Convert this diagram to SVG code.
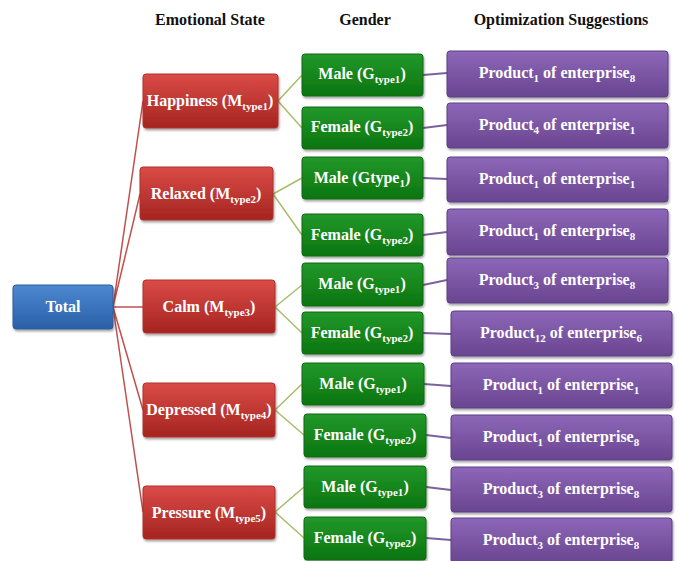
<svg xmlns="http://www.w3.org/2000/svg" width="679" height="561" viewBox="0 0 679 561">
<defs>
<linearGradient id="gRed" x1="0" y1="0" x2="0" y2="1"><stop offset="0" stop-color="#DA4B47"/><stop offset="1" stop-color="#A52420"/></linearGradient>
<linearGradient id="gGreen" x1="0" y1="0" x2="0" y2="1"><stop offset="0" stop-color="#22982A"/><stop offset="1" stop-color="#0B750F"/></linearGradient>
<linearGradient id="gBlue" x1="0" y1="0" x2="0" y2="1"><stop offset="0" stop-color="#4C88D0"/><stop offset="1" stop-color="#2A60A8"/></linearGradient>
<linearGradient id="gPurple" x1="0" y1="0" x2="0" y2="1"><stop offset="0" stop-color="#8D67B8"/><stop offset="1" stop-color="#694590"/></linearGradient>
<filter id="sh" x="-10%" y="-10%" width="120%" height="130%"><feDropShadow dx="1" dy="2" stdDeviation="1.2" flood-color="#000" flood-opacity="0.35"/></filter>
</defs>
<style>
.hd{font-family:"Liberation Serif","Times New Roman",serif;font-weight:bold;font-size:16px;fill:#111;text-anchor:middle}
.t{font-family:"Liberation Serif","Times New Roman",serif;font-weight:bold;font-size:16px;fill:#fff;text-anchor:middle}
.s{font-size:11px}
.red rect{fill:url(#gRed);stroke:#B0302C;stroke-width:1}
.green rect{fill:url(#gGreen);stroke:#0F6A14;stroke-width:1}
.blue rect{fill:url(#gBlue);stroke:#2C5F9E;stroke-width:1}
.purple rect{fill:url(#gPurple);stroke:#5E3F85;stroke-width:1}
rect{filter:url(#sh)}
.lr{stroke:#C0504D;stroke-width:1.5;fill:none}
.lg{stroke:#A6BE6A;stroke-width:1.5;fill:none}
.lp{stroke:#7A62A0;stroke-width:2;fill:none}
</style>
<rect width="679" height="561" fill="#fff" style="filter:none"/>
<g id="headers">
<text class="hd" x="210" y="25">Emotional State</text>
<text class="hd" x="365" y="25">Gender</text>
<text class="hd" x="561" y="25">Optimization Suggestions</text>
</g>
<g id="connectors">
<path class="lr" d="M113,307 L143,101 M113,307 L140,194 M113,307 L143,307 M113,307 L143,410 M113,307 L143,512"/>
<path class="lg" d="M278,101 L302,75 M278,101 L302,128 M273,194 L302,178 M273,194 L302,235 M275,307 L302,285 M275,307 L302,333 M275,410 L302,384 M275,410 L304,435 M275,512 L304,487 M275,512 L304,538"/>
<path class="lp" d="M423,75 L447,73 M423,128 L447,125 M423,178 L447,179 M423,235 L447,232 M423,285 L447,280 M423,333 L451,334 M424,384 L451,386 M426,435 L451,438 M426,487 L451,490 M426,538 L451,540"/>
</g>
<g id="total" class="blue"><rect x="13" y="285" width="100" height="44" rx="3"/><text class="t" x="63" y="312">Total</text></g>
<g id="happiness" class="red"><rect x="143" y="74" width="135" height="54" rx="3"/><text class="t" x="210" y="106">Happiness (M<tspan class="s" dy="4">type1</tspan><tspan dy="-4">)</tspan></text></g>
<g id="relaxed" class="red"><rect x="140" y="167" width="133" height="53" rx="3"/><text class="t" x="206" y="199">Relaxed (M<tspan class="s" dy="4">type2</tspan><tspan dy="-4">)</tspan></text></g>
<g id="calm" class="red"><rect x="143" y="280" width="132" height="53" rx="3"/><text class="t" x="209" y="312">Calm (M<tspan class="s" dy="4">type3</tspan><tspan dy="-4">)</tspan></text></g>
<g id="depressed" class="red"><rect x="143" y="383" width="132" height="54" rx="3"/><text class="t" x="209" y="415">Depressed (M<tspan class="s" dy="4">type4</tspan><tspan dy="-4">)</tspan></text></g>
<g id="pressure" class="red"><rect x="143" y="486" width="132" height="53" rx="3"/><text class="t" x="209" y="518">Pressure (M<tspan class="s" dy="4">type5</tspan><tspan dy="-4">)</tspan></text></g>
<g id="g1" class="green"><rect x="302" y="54" width="121" height="42" rx="3"/><text class="t" x="362" y="79">Male (G<tspan class="s" dy="4">type1</tspan><tspan dy="-4">)</tspan></text></g>
<g id="g2" class="green"><rect x="302" y="107" width="121" height="42" rx="3"/><text class="t" x="362" y="132">Female (G<tspan class="s" dy="4">type2</tspan><tspan dy="-4">)</tspan></text></g>
<g id="g3" class="green"><rect x="302" y="157" width="121" height="42" rx="3"/><text class="t" x="362" y="183">Male (Gtype<tspan class="s" dy="4">1</tspan><tspan dy="-4">)</tspan></text></g>
<g id="g4" class="green"><rect x="302" y="214" width="121" height="42" rx="3"/><text class="t" x="362" y="240">Female (G<tspan class="s" dy="4">type2</tspan><tspan dy="-4">)</tspan></text></g>
<g id="g5" class="green"><rect x="302" y="263" width="121" height="43" rx="3"/><text class="t" x="362" y="289">Male (G<tspan class="s" dy="4">type1</tspan><tspan dy="-4">)</tspan></text></g>
<g id="g6" class="green"><rect x="302" y="312" width="121" height="42" rx="3"/><text class="t" x="362" y="338">Female (G<tspan class="s" dy="4">type2</tspan><tspan dy="-4">)</tspan></text></g>
<g id="g7" class="green"><rect x="302" y="363" width="122" height="42" rx="3"/><text class="t" x="363" y="389">Male (G<tspan class="s" dy="4">type1</tspan><tspan dy="-4">)</tspan></text></g>
<g id="g8" class="green"><rect x="304" y="414" width="122" height="43" rx="3"/><text class="t" x="365" y="440">Female (G<tspan class="s" dy="4">type2</tspan><tspan dy="-4">)</tspan></text></g>
<g id="g9" class="green"><rect x="304" y="466" width="122" height="42" rx="3"/><text class="t" x="365" y="492">Male (G<tspan class="s" dy="4">type1</tspan><tspan dy="-4">)</tspan></text></g>
<g id="g10" class="green"><rect x="304" y="517" width="122" height="43" rx="3"/><text class="t" x="365" y="543">Female (G<tspan class="s" dy="4">type2</tspan><tspan dy="-4">)</tspan></text></g>
<g id="p1" class="purple"><rect x="447" y="51" width="221" height="46" rx="3"/><text class="t" x="557" y="78">Product<tspan class="s" dy="4">1</tspan><tspan dy="-4"> of enterprise</tspan><tspan class="s" dy="4">8</tspan></text></g>
<g id="p2" class="purple"><rect x="447" y="103" width="221" height="45" rx="3"/><text class="t" x="557" y="130">Product<tspan class="s" dy="4">4</tspan><tspan dy="-4"> of enterprise</tspan><tspan class="s" dy="4">1</tspan></text></g>
<g id="p3" class="purple"><rect x="447" y="157" width="221" height="45" rx="3"/><text class="t" x="557" y="184">Product<tspan class="s" dy="4">1</tspan><tspan dy="-4"> of enterprise</tspan><tspan class="s" dy="4">1</tspan></text></g>
<g id="p4" class="purple"><rect x="447" y="209" width="221" height="46" rx="3"/><text class="t" x="557" y="236">Product<tspan class="s" dy="4">1</tspan><tspan dy="-4"> of enterprise</tspan><tspan class="s" dy="4">8</tspan></text></g>
<g id="p5" class="purple"><rect x="447" y="258" width="221" height="45" rx="3"/><text class="t" x="557" y="285">Product<tspan class="s" dy="4">3</tspan><tspan dy="-4"> of enterprise</tspan><tspan class="s" dy="4">8</tspan></text></g>
<g id="p6" class="purple"><rect x="451" y="311" width="221" height="45" rx="3"/><text class="t" x="561" y="338">Product<tspan class="s" dy="4">12</tspan><tspan dy="-4"> of enterprise</tspan><tspan class="s" dy="4">6</tspan></text></g>
<g id="p7" class="purple"><rect x="451" y="363" width="221" height="45" rx="3"/><text class="t" x="561" y="390">Product<tspan class="s" dy="4">1</tspan><tspan dy="-4"> of enterprise</tspan><tspan class="s" dy="4">1</tspan></text></g>
<g id="p8" class="purple"><rect x="451" y="415" width="221" height="45" rx="3"/><text class="t" x="561" y="442">Product<tspan class="s" dy="4">1</tspan><tspan dy="-4"> of enterprise</tspan><tspan class="s" dy="4">8</tspan></text></g>
<g id="p9" class="purple"><rect x="451" y="467" width="221" height="45" rx="3"/><text class="t" x="561" y="494">Product<tspan class="s" dy="4">3</tspan><tspan dy="-4"> of enterprise</tspan><tspan class="s" dy="4">8</tspan></text></g>
<g id="p10" class="purple"><rect x="451" y="518" width="221" height="45" rx="3"/><text class="t" x="561" y="545">Product<tspan class="s" dy="4">3</tspan><tspan dy="-4"> of enterprise</tspan><tspan class="s" dy="4">8</tspan></text></g>
</svg>
